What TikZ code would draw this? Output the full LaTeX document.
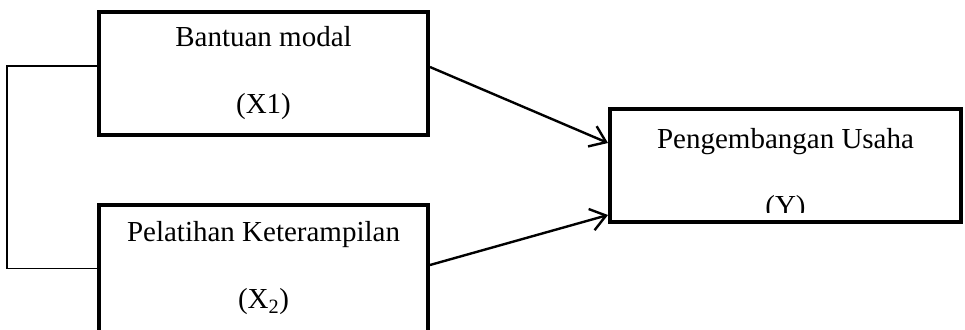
\documentclass[tikz,border=0pt]{standalone}
\usepackage{fontspec}
\setmainfont{Liberation Serif}
\usetikzlibrary{arrows.meta}

\begin{document}
\begin{tikzpicture}[x=1pt,y=-1pt,
    varbox/.style={draw,line width=4pt,rectangle,align=center,inner sep=0pt,
      font=\fontsize{29}{35}\selectfont},
    lbl/.style={align=center,inner sep=0pt,font=\fontsize{29}{35}\selectfont},
    link/.style={line width=2.4pt,-{Straight Barb[length=15pt,width=22pt,line width=2.4pt]}},
    pair/.style={line width=1.3pt}]
  \useasboundingbox (0,0) rectangle (965,329);
  % variabel bebas
  \node[varbox,minimum width=329pt,minimum height=123pt] (x1) at (263.5,73.5)
    {Bantuan modal\\[32pt](X1)};
  \node[varbox,minimum width=329pt,minimum height=127pt] (x2) at (263.5,268.5)
    {Pelatihan Keterampilan\\[32pt](X\textsubscript{2})};
  % variabel terikat
  \node[varbox,minimum width=351pt,minimum height=113pt] (y) at (785.5,165.5) {};
  \begin{scope}
    \clip (y.north west) rectangle ([yshift=12pt]y.south east);
    \node[lbl] (ytxt) at ([yshift=-10pt]y.center) {Pengembangan Usaha\\[32pt](Y)};
  \end{scope}
  % hubungan
  \coordinate (lft) at (7,0);
  \draw[pair] ([yshift=7.5pt]x1.west) -| (lft |- x2.west) -- (x2.west);
  \draw[link] ([yshift=6.5pt]x1.east) -- ([yshift=22.5pt]y.west);
  \draw[link] ([yshift=3.5pt]x2.east) -- ([yshift=-49.5pt]y.west);
\end{tikzpicture}
\end{document}
